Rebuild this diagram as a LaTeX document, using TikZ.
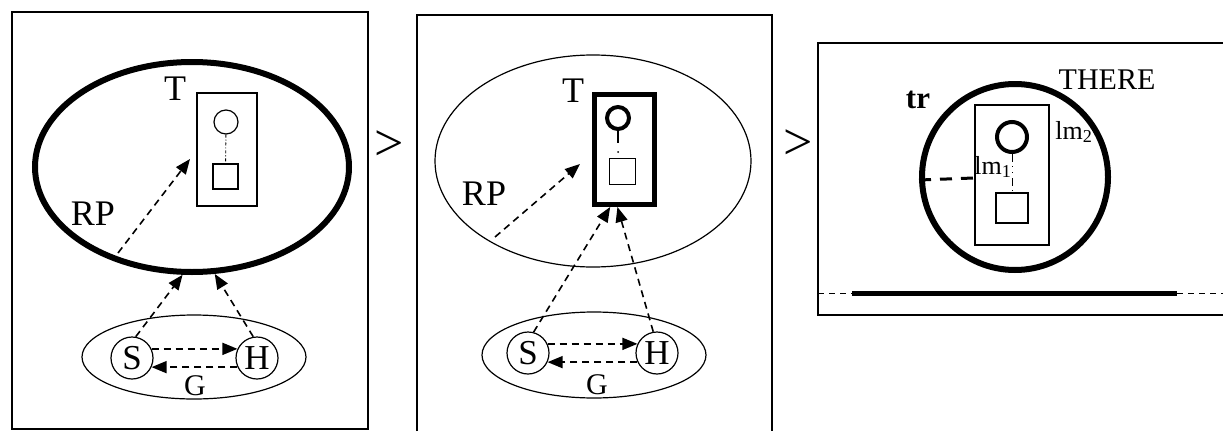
\documentclass[tikz,border=0pt]{standalone}
\usepackage{fontspec}
\setmainfont{Liberation Serif}
\usetikzlibrary{arrows.meta,shapes.geometric,calc}
\tikzset{
  frame/.style={line width=1.4pt},
  thinline/.style={line width=1.2pt},
  dasharrow/.style={line width=1.6pt, dash pattern=on 7pt off 5pt,
    -{Triangle[length=15pt,width=12pt]}},
  actor/.style={circle, draw, line width=1.2pt, minimum size=42pt, inner sep=0pt,
    font=\fontsize{35}{35}\selectfont},
  zone/.style={ellipse, draw, inner sep=0pt},
  lbl/.style={inner sep=0pt, font=\fontsize{36}{36}\selectfont},
  gt/.style={inner sep=0pt, font=\fontsize{52}{52}\selectfont},
  sq/.style={rectangle, draw, line width=1.2pt, inner sep=0pt},
}
\begin{document}
\begin{tikzpicture}[x=1pt,y=-1pt]
\useasboundingbox (0,0) rectangle (1223,431);

% ---------- first stage ----------
\draw[frame] (12,12) rectangle (368,429);
\node[zone, line width=6pt, minimum width=314pt, minimum height=210pt] (rp1) at (192,167) {};
\node[sq, minimum width=60pt, minimum height=113pt] (t1) at (227,149.5) {};
\node[circle, draw, line width=1.2pt, minimum size=24pt, inner sep=0pt] (c1) at (226,122) {};
\node[sq, minimum size=25pt] (q1) at (225.5,176.5) {};
\draw[line width=0.9pt, dash dot] (c1) -- (q1);
\node[lbl] (tl1) at (175,89) {T};
\node[lbl] (rpl1) at (93,214) {RP};
\coordinate (rpa1) at (118,253);
\coordinate (rpb1) at (190,159);
\draw[dasharrow] (rpa1) -- (rpb1);

\node[zone, thinline, minimum width=224pt, minimum height=84pt] (g1) at (194,357) {};
\node[actor] (s1) at (132,358) {S};
\node[actor] (h1) at (257,358) {H};
\draw[dasharrow] (s1.25) -- (h1.155);
\draw[dasharrow] (h1.205) -- (s1.-25);
\node[lbl, font=\fontsize{30}{30}\selectfont] (gl1) at (195,386) {G};
\draw[dasharrow] (s1.80) -- (rp1.-95);
\draw[dasharrow] (h1.100) -- (rp1.-78);

\node[gt] (gt1) at (389,146) {>};

% ---------- second stage ----------
\draw[frame] (417,431) -- (417,15) -- (772,15) -- (772,431);
\node[zone, thinline, minimum width=316pt, minimum height=212pt] (rp2) at (593,161) {};
\node[sq, line width=5pt, minimum width=60pt, minimum height=110pt] (t2) at (624.5,149.5) {};
\node[circle, draw, line width=4pt, minimum size=22pt, inner sep=0pt] (c2) at (618,118) {};
\coordinate (st2) at (618,143);
\draw[line width=2pt] (c2.south) -- (st2);
\fill (618,152) circle (1pt);
\node[sq, minimum size=26pt] (q2) at (622.5,171.5) {};
\node[lbl] (tl2) at (573,91) {T};
\node[lbl] (rpl2) at (484,194) {RP};
\coordinate (rpa2) at (495,237);
\coordinate (rpb2) at (580,164);
\draw[dasharrow] (rpa2) -- (rpb2);

\node[zone, thinline, minimum width=224pt, minimum height=86pt] (g2) at (594,355) {};
\node[actor] (s2) at (528,353) {S};
\node[actor] (h2) at (657,353) {H};
\draw[dasharrow] (s2.25) -- (h2.155);
\draw[dasharrow] (h2.205) -- (s2.-25);
\node[lbl, font=\fontsize{30}{30}\selectfont] (gl2) at (597,385) {G};
\draw[dasharrow] (s2.75) -- (t2.-104);
\draw[dasharrow] (h2.100) -- (t2.-97);

\node[gt] (gt2) at (798,145) {>};

% ---------- third stage ----------
\draw[frame] (1223,43) -- (818,43) -- (818,315) -- (1223,315);
\node[circle, draw, line width=6pt, minimum size=186pt, inner sep=0pt] (tr) at (1015,177) {};
\node[sq, line width=2pt, minimum width=74pt, minimum height=140pt] (lmbox) at (1012,175) {};
\node[circle, draw, line width=4pt, minimum size=30pt, inner sep=0pt] (c3) at (1012,137) {};
\node[sq, minimum width=32pt, minimum height=30pt] (q3) at (1012,208) {};
\draw[line width=1pt, dash pattern=on 8pt off 4pt on 1pt off 5pt on 1pt off 5pt] (c3.south) -- (q3.north);
\draw[line width=3pt, dash pattern=on 12pt off 9pt] ([yshift=-3pt]tr.west) -- ([yshift=-3pt]lmbox.west);
\node[lbl, font=\fontsize{31}{31}\selectfont\bfseries] (trl) at (918,100) {tr};
\node[lbl, font=\fontsize{30}{30}\selectfont] (there) at (1107,80) {THERE};
\node[lbl, font=\fontsize{26}{26}\selectfont] (lm1) at (993,167) {lm\textsubscript{1}};
\node[lbl, font=\fontsize{26}{26}\selectfont] (lm2) at (1074,132) {lm\textsubscript{2}};

\coordinate (bl0) at (818,293);
\coordinate (bl1) at (852,293);
\coordinate (bl2) at (1177,293);
\coordinate (bl3) at (1223,293);
\draw[line width=1pt, dash pattern=on 6pt off 5pt] (bl0) -- (bl1);
\draw[line width=5pt] (bl1) -- (bl2);
\draw[line width=1pt, dash pattern=on 6pt off 5pt] (bl2) -- (bl3);
\end{tikzpicture}
\end{document}
